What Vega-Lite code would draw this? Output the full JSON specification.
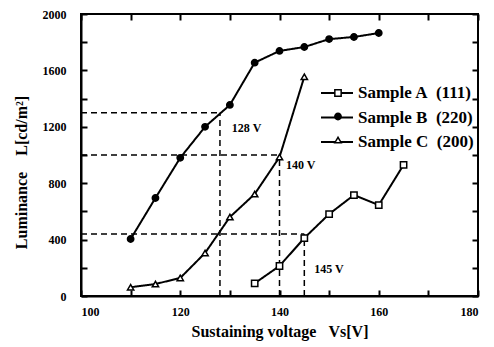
{
  "$schema": "https://vega.github.io/schema/vega-lite/v6.json",
  "width": 397,
  "height": 282,
  "autosize": "none",
  "padding": {"left": 81, "top": 14, "right": 16, "bottom": 51},
  "background": "white",
  "config": {
    "view": {"stroke": "black", "strokeWidth": 2},
    "font": "Liberation Serif",
    "axis": {
      "labelFont": "Liberation Serif",
      "labelFontWeight": "bold",
      "labelFontSize": 12,
      "labelColor": "black",
      "titleFont": "Liberation Serif",
      "titleFontWeight": "bold",
      "titleFontSize": 16,
      "titleColor": "black",
      "domainColor": "black",
      "domainWidth": 2,
      "tickColor": "black",
      "tickWidth": 2,
      "ticks": true,
      "grid": false
    }
  },
  "datasets": {
    "series": [
      {"s": "Sample A\u00a0\u00a0(111)", "v": 135, "L": 90},
      {"s": "Sample A\u00a0\u00a0(111)", "v": 140, "L": 213},
      {"s": "Sample A\u00a0\u00a0(111)", "v": 145, "L": 411},
      {"s": "Sample A\u00a0\u00a0(111)", "v": 150, "L": 581},
      {"s": "Sample A\u00a0\u00a0(111)", "v": 155, "L": 716},
      {"s": "Sample A\u00a0\u00a0(111)", "v": 160, "L": 645},
      {"s": "Sample A\u00a0\u00a0(111)", "v": 165, "L": 930},
      {"s": "Sample B\u00a0\u00a0(220)", "v": 110, "L": 404},
      {"s": "Sample B\u00a0\u00a0(220)", "v": 115, "L": 695},
      {"s": "Sample B\u00a0\u00a0(220)", "v": 120, "L": 980},
      {"s": "Sample B\u00a0\u00a0(220)", "v": 125, "L": 1200},
      {"s": "Sample B\u00a0\u00a0(220)", "v": 130, "L": 1355},
      {"s": "Sample B\u00a0\u00a0(220)", "v": 135, "L": 1655},
      {"s": "Sample B\u00a0\u00a0(220)", "v": 140, "L": 1738},
      {"s": "Sample B\u00a0\u00a0(220)", "v": 145, "L": 1766},
      {"s": "Sample B\u00a0\u00a0(220)", "v": 150, "L": 1822},
      {"s": "Sample B\u00a0\u00a0(220)", "v": 155, "L": 1837},
      {"s": "Sample B\u00a0\u00a0(220)", "v": 160, "L": 1865},
      {"s": "Sample C\u00a0\u00a0(200)", "v": 110, "L": 62},
      {"s": "Sample C\u00a0\u00a0(200)", "v": 115, "L": 85},
      {"s": "Sample C\u00a0\u00a0(200)", "v": 120, "L": 128},
      {"s": "Sample C\u00a0\u00a0(200)", "v": 125, "L": 305},
      {"s": "Sample C\u00a0\u00a0(200)", "v": 130, "L": 560},
      {"s": "Sample C\u00a0\u00a0(200)", "v": 135, "L": 723},
      {"s": "Sample C\u00a0\u00a0(200)", "v": 140, "L": 985},
      {"s": "Sample C\u00a0\u00a0(200)", "v": 145, "L": 1555}
    ],
    "guides": [
      {"x1": 100, "x2": 128, "y1": 1300, "y2": 1300},
      {"x1": 128, "x2": 128, "y1": 0, "y2": 1300},
      {"x1": 100, "x2": 140, "y1": 1000, "y2": 1000},
      {"x1": 140, "x2": 140, "y1": 0, "y2": 1000},
      {"x1": 100, "x2": 145, "y1": 440, "y2": 440},
      {"x1": 145, "x2": 145, "y1": 0, "y2": 440}
    ],
    "notes": [
      {"v": 130.4, "L": 1190, "t": "128 V"},
      {"v": 141.3, "L": 929, "t": "140 V"},
      {"v": 147, "L": 191, "t": "145 V"}
    ]
  },
  "resolve": {"axis": {"x": "independent", "y": "independent"}},
  "layer": [
    {
      "data": {"name": "guides"},
      "mark": {"type": "rule", "strokeDash": [6, 4], "strokeWidth": 1.5, "color": "black"},
      "encoding": {
        "x": {"field": "x1", "type": "quantitative",
          "scale": {"domain": [100, 180], "nice": false},
          "axis": {"orient": "bottom", "values": [100, 110, 120, 130, 140, 150, 160, 170, 180],
            "labelExpr": "datum.value % 20 === 0 ? datum.label : ''",
            "ticks": true, "tickSize": -6,
            "labelPadding": 16, "title": "Sustaining voltage\u00a0\u00a0\u00a0Vs[V]", "titlePadding": 6}},
        "x2": {"field": "x2"},
        "y": {"field": "y1", "type": "quantitative",
          "scale": {"domain": [0, 2000], "nice": false},
          "axis": {"orient": "left", "values": [0, 200, 400, 600, 800, 1000, 1200, 1400, 1600, 1800, 2000],
            "labelExpr": "datum.value % 400 === 0 ? datum.label : ''",
            "format": "d",
            "ticks": true, "tickSize": -6,
            "labelPadding": 21, "title": "Luminance\u00a0\u00a0\u00a0\u00a0L[cd/m\u00b2]", "titlePadding": 13, "titleY": 158}},
        "y2": {"field": "y2"}
      }
    },
    {
      "data": {"name": "series"},
      "mark": {"type": "line", "color": "black", "strokeWidth": 2},
      "encoding": {
        "x": {"field": "v", "type": "quantitative",
          "axis": {"orient": "top", "values": [100, 110, 120, 130, 140, 150, 160, 170, 180],
            "ticks": true, "tickSize": -6,
            "labels": false, "title": null, "domain": false}},
        "y": {"field": "L", "type": "quantitative",
          "axis": {"orient": "right", "values": [0, 200, 400, 600, 800, 1000, 1200, 1400, 1600, 1800, 2000],
            "ticks": true, "tickSize": -6,
            "labels": false, "title": null, "domain": false}},
        "strokeDash": {"field": "s", "type": "nominal",
          "scale": {"domain": ["Sample A\u00a0\u00a0(111)", "Sample B\u00a0\u00a0(220)", "Sample C\u00a0\u00a0(200)"],
            "range": [[1, 0], [1, 0], [1, 0]]},
          "legend": {"title": null, "orient": "none", "legendX": 239, "legendY": 71,
            "symbolSize": 1024, "symbolStrokeWidth": 2, "symbolStrokeColor": "black",
            "clipHeight": 16, "rowPadding": 7.5,
            "labelFont": "Liberation Serif", "labelFontWeight": "bold",
            "labelFontSize": 17, "labelColor": "black", "labelOffset": 4}}
      }
    },
    {
      "data": {"name": "series"},
      "mark": {"type": "point", "filled": true, "strokeWidth": 1.5, "size": 40, "opacity": 1},
      "encoding": {
        "x": {"field": "v", "type": "quantitative", "axis": null},
        "y": {"field": "L", "type": "quantitative", "axis": null},
        "shape": {"field": "s", "type": "nominal",
          "scale": {"range": ["square", "circle", "triangle-up"]},
          "legend": {"title": null, "orient": "none", "legendX": 252, "legendY": 71,
            "symbolSize": 40, "symbolStrokeWidth": 1.5,
            "clipHeight": 16, "rowPadding": 7.5,
            "labelExpr": "''", "labelOffset": 0}},
        "fill": {"field": "s", "type": "nominal",
          "scale": {"range": ["white", "black", "white"]}},
        "stroke": {"field": "s", "type": "nominal",
          "scale": {"range": ["black", "black", "black"]}}
      }
    },
    {
      "data": {"name": "notes"},
      "mark": {"type": "text", "align": "left", "baseline": "middle", "font": "Liberation Serif", "fontWeight": "bold", "fontSize": 12, "color": "black"},
      "encoding": {
        "x": {"field": "v", "type": "quantitative", "axis": null},
        "y": {"field": "L", "type": "quantitative", "axis": null},
        "text": {"field": "t"}
      }
    }
  ]
}
